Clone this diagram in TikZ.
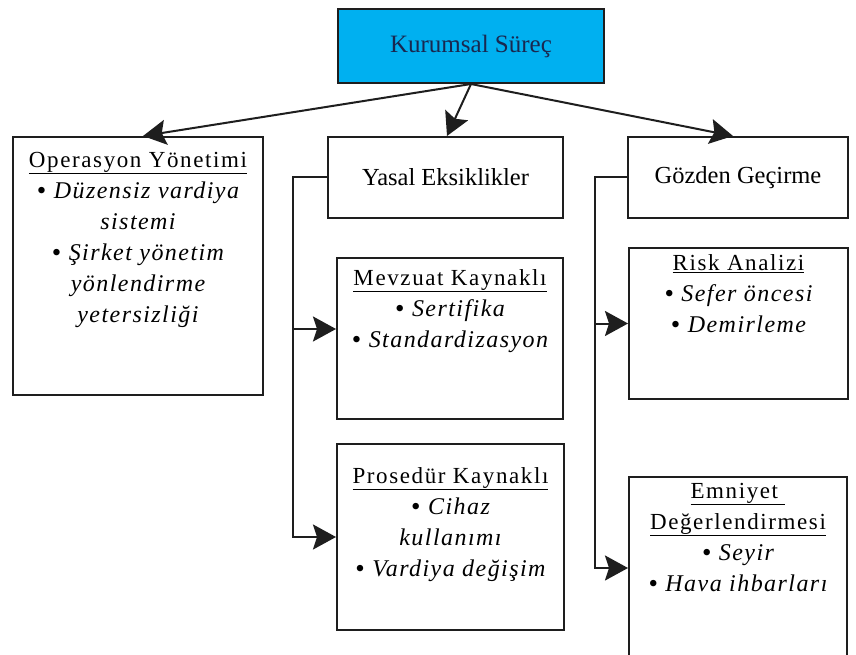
\documentclass[tikz,border=0pt]{standalone}
\usepackage{fontspec}
\setmainfont{Liberation Serif}
\newfontfamily\headfam[LetterSpace=7]{Liberation Serif}
\newfontfamily\itemfam[LetterSpace=6]{Liberation Serif}
\usetikzlibrary{arrows.meta,calc}

\definecolor{procblue}{RGB}{0,176,240}
\definecolor{navytext}{RGB}{25,40,80}
\definecolor{edgegray}{RGB}{30,30,30}

% first-line strut so every text block starts at the same baseline offset
\newcommand\fl{\rule{0pt}{20pt}}
\newcommand\hd[1]{{\fontsize{23}{31}\selectfont\headfam\upshape\underline{#1}}}
\newcommand\itm[1]{{\fontsize{27}{31}\selectfont\upshape\raisebox{-0.06em}{\textbullet}}\ #1}

\begin{document}
\begin{tikzpicture}[x=1pt,y=-1pt,
  box/.style={draw=edgegray,line width=2pt,fill=white,anchor=north west,inner sep=0pt},
  txt/.style={anchor=north,inner sep=0pt,align=center,
    font=\fontsize{24}{31}\selectfont\itemfam\itshape},
  conn/.style={line width=2pt,draw=edgegray,
    -{Stealth[length=23pt,width=25pt,inset=4pt]}}]

\useasboundingbox (0,0) rectangle (856,655);
\clip (0,0) rectangle (856,655);
\fill[white] (0,0) rectangle (856,655);

% boxes
\node[box,fill=procblue,minimum width=266pt,minimum height=74pt,
  font=\fontsize{25}{30}\selectfont,text=navytext] (top) at (337,8) {Kurumsal Süreç};
\node[box,minimum width=250pt,minimum height=258pt] (op) at (12,136) {};
\node[box,minimum width=235pt,minimum height=81pt,
  font=\fontsize{24.5}{30}\selectfont] (yasal) at (327,136) {Yasal Eksiklikler};
\node[box,minimum width=220pt,minimum height=81pt,
  font=\fontsize{24.5}{30}\selectfont] (gozden) at (627,136) {Gözden Geçirme};
\node[box,minimum width=226pt,minimum height=161pt] (mev) at (336,257) {};
\node[box,minimum width=227pt,minimum height=186pt] (pros) at (336,443) {};
\node[box,minimum width=219pt,minimum height=151pt] (risk) at (628,247) {};
\node[box,minimum width=218pt,minimum height=182pt] (emn) at (628,476) {};

% box contents
\node[txt] (opt) at ($(op.north)+(0,11)$)
  {\fl\hd{Operasyon Yönetimi}\\ \itm{Düzensiz vardiya}\\ sistemi\\
   \itm{Şirket yönetim}\\ yönlendirme\\ yetersizliği};
\node[txt] (mevt) at ($(mev.north)+(0,8)$)
  {\fl\hd{Mevzuat Kaynaklı}\\ \itm{Sertifika}\\ \itm{Standardizasyon}};
\node[txt] (prost) at ($(pros.north)+(0,20)$)
  {\fl\hd{Prosedür Kaynaklı}\\ \itm{Cihaz}\\ kullanımı\\ \itm{Vardiya değişim}};
\node[txt] (riskt) at ($(risk.north)+(0,3)$)
  {\fl\hd{Risk Analizi}\\ \itm{Sefer öncesi}\\ \itm{Demirleme}};
\node[txt] (emnt) at ($(emn.north)+(0,2)$)
  {\fl\hd{Emniyet\ }\\ \hd{Değerlendirmesi}\\ \itm{Seyir}\\ \itm{Hava ihbarları}};

% arrows from the top process
\draw[conn] (top.south) -- ($(op.north west)+(131,0)$);
\draw[conn] (top.south) -- ($(yasal.north west)+(120,0)$);
\draw[conn] (top.south) -- ($(gozden.north west)+(106,0)$);

% left bracket: Yasal Eksiklikler
\coordinate (ybus) at (293,0);
\coordinate (mevin) at ($(mev.west)+(0,-9.5)$);
\draw[conn] (yasal.west) -- (yasal.west -| ybus) |- (pros.west);
\draw[conn] (ybus |- mevin) -- (mevin);

% right bracket: Gözden Geçirme
\coordinate (gbus) at (595,0);
\draw[conn] (gozden.west) -- (gozden.west -| gbus) |- (emn.west);
\draw[conn] (gbus |- risk.west) -- (risk.west);

\end{tikzpicture}
\end{document}
